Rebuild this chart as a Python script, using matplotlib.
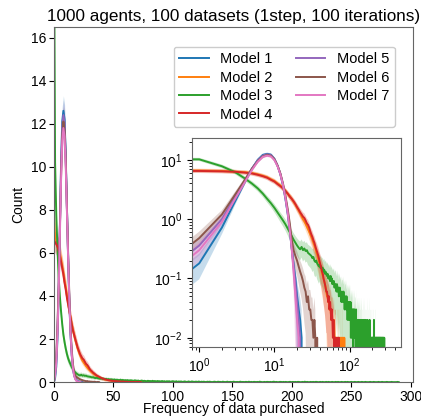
import numpy as np
import matplotlib.pyplot as plt

plt.rcParams['font.family'] = ['Liberation Sans', 'DejaVu Sans']

# mean count of agents per purchase frequency (index = frequency 0, 1, 2, ...)
model1 = [0.0, 0.18, 0.72, 2.0, 4.1, 7.0, 10.0, 12.1, 12.6, 12.2, 10.4, 8.0, 5.7, 3.7,
          2.2, 1.25, 0.65, 0.32, 0.17, 0.1, 0.05, 0.03, 0.02, 0.01, 0.0]
model2 = [8.0, 6.6, 6.5, 6.3, 6.2, 6.0, 5.7, 5.4, 5.1, 4.7, 4.4, 4.0, 3.7, 3.3, 3.0, 2.7,
          2.45, 2.2, 1.95, 1.75, 1.55, 1.4, 1.25, 1.12, 1.0, 0.92, 0.83, 0.75, 0.68, 0.61,
          0.55, 0.5, 0.45, 0.4, 0.36, 0.32, 0.28, 0.25, 0.22, 0.2, 0.18, 0.16, 0.14, 0.12,
          0.11, 0.1, 0.09, 0.08, 0.07, 0.06, 0.05, 0.05, 0.04, 0.04, 0.03, 0.03, 0.03, 0.02,
          0.02, 0.02, 0.02, 0.01, 0.02, 0.01, 0.01, 0.01, 0.01, 0.0, 0.01, 0.01, 0.0, 0.01,
          0.01, 0.0, 0.01, 0.01, 0.0, 0.01, 0.0, 0.01, 0.01, 0.0, 0.0, 0.01, 0.0, 0.01, 0.0]
model3 = [22.0, 10.2, 7.8, 6.2, 4.9, 4.0, 3.3, 2.7, 2.2, 1.85, 1.55, 1.3, 1.1, 0.95, 0.82,
          0.7, 0.6, 0.52, 0.45, 0.4, 0.36, 0.33, 0.31, 0.34, 0.3, 0.32, 0.29, 0.3, 0.27, 0.26,
          0.25, 0.24, 0.22, 0.23, 0.2, 0.19, 0.2, 0.18, 0.17, 0.16, 0.17,
          0.15, 0.16, 0.14, 0.15, 0.13, 0.14, 0.12, 0.13, 0.12, 0.11, 0.12, 0.1, 0.11, 0.1,
          0.09, 0.11, 0.09, 0.1, 0.08, 0.09,
          0.08, 0.09, 0.07, 0.08, 0.08, 0.07, 0.06, 0.08, 0.07, 0.06, 0.07, 0.05, 0.06, 0.07,
          0.05, 0.06, 0.05, 0.04, 0.06, 0.05,
          0.05, 0.04, 0.06, 0.04, 0.05, 0.03, 0.05, 0.04, 0.04, 0.03, 0.05, 0.03, 0.04, 0.02,
          0.04, 0.03, 0.04, 0.02, 0.03, 0.04,
          0.03, 0.02, 0.04, 0.01, 0.03, 0.02, 0.03, 0.01, 0.02, 0.03, 0.02, 0.0, 0.03, 0.02,
          0.01, 0.03, 0.02, 0.01, 0.02, 0.02,
          0.01, 0.03, 0.0, 0.02, 0.01, 0.02, 0.01, 0.0, 0.02, 0.01, 0.02, 0.01, 0.0, 0.01,
          0.02, 0.01, 0.0, 0.02, 0.01, 0.01,
          0.0, 0.02, 0.01, 0.0, 0.01, 0.02, 0.0, 0.01, 0.01, 0.0, 0.02, 0.01, 0.0, 0.01, 0.0,
          0.01, 0.02, 0.0, 0.01, 0.0,
          0.01, 0.01, 0.0, 0.02, 0.0, 0.01, 0.0, 0.01, 0.01, 0.0, 0.01, 0.0, 0.02, 0.01, 0.0,
          0.0, 0.01, 0.0, 0.01, 0.01,
          0.0, 0.01, 0.0, 0.01, 0.02, 0.0, 0.01, 0.0, 0.0, 0.01, 0.01, 0.0, 0.01, 0.0, 0.01,
          0.0, 0.0, 0.01, 0.01, 0.0,
          0.01, 0.0, 0.01, 0.0, 0.01, 0.01, 0.0, 0.0, 0.01, 0.0, 0.02, 0.0, 0.01, 0.0, 0.0,
          0.01, 0.0, 0.01, 0.0, 0.01,
          0.01, 0.0, 0.0, 0.01, 0.0, 0.01, 0.0, 0.0, 0.01, 0.0, 0.01, 0.0, 0.0, 0.01, 0.0,
          0.0, 0.01, 0.0, 0.01, 0.0,
          0.0, 0.01, 0.0, 0.0, 0.01, 0.0, 0.01, 0.0, 0.0, 0.01, 0.0, 0.0, 0.01, 0.0, 0.0,
          0.01, 0.0, 0.0, 0.01, 0.0,
          0.0, 0.01, 0.0, 0.0, 0.0, 0.01, 0.0, 0.0, 0.01, 0.0, 0.0, 0.0, 0.01, 0.0, 0.0,
          0.01, 0.0, 0.0, 0.0, 0.01, 0.0, 0.0, 0.0, 0.01, 0.0, 0.0, 0.0, 0.0, 0.01, 0.0]
model4 = [6.5, 6.5, 6.4, 6.3, 6.1, 5.9, 5.6, 5.3, 5.0, 4.6, 4.3, 3.9, 3.6, 3.3, 3.0, 2.7,
          2.4, 2.2, 2.0, 1.8, 1.6, 1.45, 1.3, 1.2, 1.1, 1.05, 0.95, 0.85, 0.8, 0.72, 0.62,
          0.55, 0.5, 0.44, 0.4, 0.35, 0.31, 0.28, 0.25, 0.22, 0.19, 0.17, 0.15, 0.13, 0.12,
          0.1, 0.09, 0.08, 0.07, 0.06, 0.06, 0.05, 0.04, 0.05, 0.03, 0.04, 0.03, 0.02, 0.03,
          0.02, 0.01, 0.02, 0.01, 0.0, 0.01, 0.01, 0.0, 0.01, 0.0, 0.0, 0.01, 0.0, 0.01, 0.0]
model5 = [0.0, 0.36, 1.0, 2.4, 4.4, 7.1, 9.8, 11.8, 12.4, 12.0, 10.3, 8.0, 5.8, 3.8, 2.3,
          1.3, 0.68, 0.33, 0.16, 0.08, 0.04, 0.02, 0.01, 0.0]
model6 = [0.0, 0.48, 1.2, 2.6, 4.5, 7.0, 9.5, 11.4, 12.1, 11.7, 10.2, 8.0, 5.9, 4.0, 2.5,
          1.5, 0.85, 0.45, 0.3, 0.24, 0.2, 0.16, 0.13, 0.11, 0.09, 0.07, 0.06, 0.04, 0.05,
          0.03, 0.03, 0.02, 0.02, 0.01, 0.02, 0.01, 0.0, 0.01, 0.0]
model7 = [0.0, 0.30, 0.9, 2.2, 4.1, 6.7, 9.3, 11.2, 11.8, 11.4, 9.9, 7.8, 5.7, 3.8, 2.3,
          1.3, 0.66, 0.31, 0.13, 0.05, 0.02, 0.01, 0.0]

labels = ['Model 1', 'Model 2', 'Model 3', 'Model 4', 'Model 5', 'Model 6', 'Model 7']
series = [model1, model2, model3, model4, model5, model6, model7]
n_datasets = 100

fig = plt.figure(figsize=(4.21, 4.19), dpi=100)
ax = fig.add_axes([0.128, 0.088, 0.853, 0.848])
axin = fig.add_axes([0.456, 0.172, 0.496, 0.499])

for i, (lab, vals) in enumerate(zip(labels, series)):
    y = np.array(vals)
    x = np.arange(len(y))
    ci = 1.96 * np.sqrt(y / n_datasets)  # 95% band over the datasets
    c = 'C%d' % i
    for a in (ax, axin):
        a.fill_between(x, y - ci, y + ci, color=c, alpha=0.25, lw=0)
        a.plot(x, y, color=c, lw=1.4, label=lab)

ax.set_xlim(0, 302)
ax.set_ylim(0, 16.5)
ax.set_yticks(range(0, 17, 2))
ax.set_title('1000 agents, 100 datasets (1step, 100 iterations)', fontsize=12.3, pad=4)
ax.set_xlabel('Frequency of data purchased', fontsize=10, labelpad=-1)
ax.set_ylabel('Count', fontsize=10)
ax.tick_params(labelsize=10, pad=2)
ax.legend(ncol=2, fontsize=10.5, loc='upper right', bbox_to_anchor=(0.97, 0.965),
          columnspacing=1.6, handlelength=2.0, labelspacing=0.3, framealpha=1)

axin.set_xscale('log')
axin.set_yscale('log')
axin.set_xlim(0.8, 480)
axin.set_ylim(0.007, 23.5)
axin.tick_params(labelsize=10)

for a in (ax, axin):
    for s in a.spines.values():
        s.set_color('0.4')

fig.savefig('out.png', dpi=100)
